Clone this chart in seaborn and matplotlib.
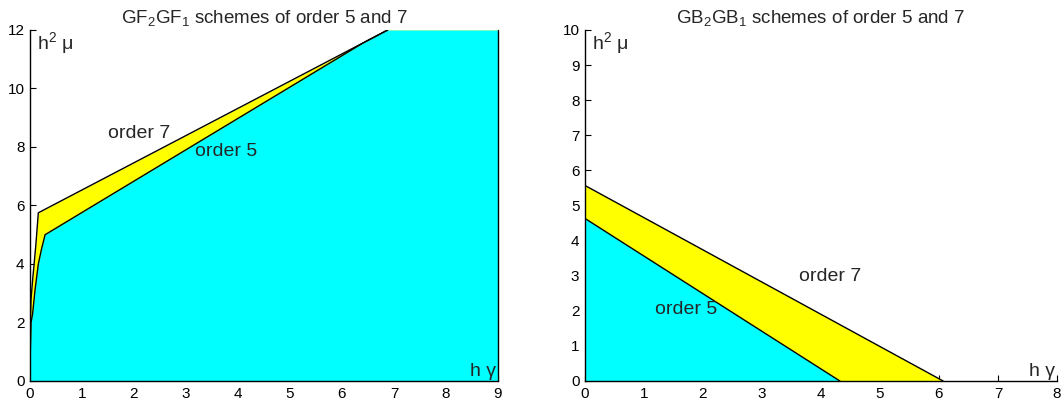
import matplotlib
matplotlib.use("Agg")
import matplotlib.pyplot as plt
import seaborn as sns
import pandas as pd

# ---- data ----
# Left panel: GF2GF1 schemes, stability boundaries
gf_o7_x = [0.0, 0.002, 0.006, 0.02, 0.05, 0.11, 0.16, 6.88, 9.0]
gf_o7_y = [0.0, 1.0, 2.0, 2.8, 3.45, 4.6, 5.75, 12.0, 12.0]
gf_o5_x = [0.0, 0.006, 0.02, 0.05, 0.096, 0.16, 0.22, 0.29, 6.4, 6.88, 9.0]
gf_o5_y = [0.0, 1.0, 2.0, 2.3, 3.1, 4.0, 4.5, 5.0, 11.55, 12.0, 12.0]
gf_edge_x = [9.0, 9.0]
gf_edge_y = [0.0, 12.0]

# Right panel: GB2GB1 schemes
gb_o7_x = [0.0, 6.07]
gb_o7_y = [5.57, 0.0]
gb_o5_x = [0.0, 4.32]
gb_o5_y = [4.63, 0.0]

left_xticks = list(range(0, 10))
left_yticks = list(range(0, 13, 2))
right_xticks = list(range(0, 9))
right_yticks = list(range(0, 11))

CYAN = "#00ffff"
YELLOW = "#ffff00"

sns.set_style("ticks")
plt.rcParams["font.family"] = ["Liberation Sans", "DejaVu Sans"]
plt.rcParams["mathtext.fontset"] = "custom"
plt.rcParams["mathtext.rm"] = "Liberation Sans"
plt.rcParams["mathtext.it"] = "Liberation Sans"

fig = plt.figure(figsize=(10.64, 4.09), dpi=100)
axL = fig.add_axes([0.0282, 0.0685, 0.4398, 0.8582])
axR = fig.add_axes([0.5498, 0.0685, 0.4436, 0.8582])

LBL = 14


def style(ax, xlim, ylim, xt, yt):
    ax.set_xlim(*xlim)
    ax.set_ylim(*ylim)
    ax.set_xticks(xt)
    ax.set_yticks(yt)
    ax.tick_params(direction="in", length=4, width=0.8, labelsize=11,
                   colors="black", pad=4)
    ax.tick_params(axis="y", pad=4)
    for s in ["top", "right"]:
        ax.spines[s].set_visible(False)
    for s in ["left", "bottom"]:
        ax.spines[s].set_linewidth(1.0)
        ax.spines[s].set_color("black")
        ax.spines[s].set_zorder(5)
    ax.set_xlabel("")
    ax.set_ylabel("")


def boundary(ax, xs, ys, clip=True):
    df = pd.DataFrame({"x": xs, "y": ys})
    sns.lineplot(data=df, x="x", y="y", ax=ax, color="black", lw=1.0,
                 sort=False, estimator=None, zorder=3, clip_on=clip)


# ---- left panel ----
axL.fill_between(gf_o7_x, 0, gf_o7_y, color=YELLOW, lw=0, zorder=1)
axL.fill_between(gf_o5_x, 0, gf_o5_y, color=CYAN, lw=0, zorder=2)
boundary(axL, gf_o7_x[:-1], gf_o7_y[:-1])
boundary(axL, gf_o5_x[:-1], gf_o5_y[:-1])
boundary(axL, gf_edge_x, gf_edge_y, clip=False)
style(axL, (0, 9), (0, 12), left_xticks, left_yticks)
axL.set_title("GF$_2$GF$_1$ schemes of order 5 and 7", fontsize=13.5, pad=5)
axL.text(0.13, 11.55, "h$^2$ μ", fontsize=LBL, va="center", ha="left")
axL.text(8.97, 0.33, "h γ", fontsize=LBL, va="center", ha="right")
axL.text(1.5, 8.45, "order 7", fontsize=LBL, va="center", ha="left")
axL.text(3.17, 7.85, "order 5", fontsize=LBL, va="center", ha="left")

# ---- right panel ----
axR.fill_between(gb_o7_x, 0, gb_o7_y, color=YELLOW, lw=0, zorder=1)
axR.fill_between(gb_o5_x, 0, gb_o5_y, color=CYAN, lw=0, zorder=2)
boundary(axR, gb_o7_x, gb_o7_y)
boundary(axR, gb_o5_x, gb_o5_y)
style(axR, (0, 8), (0, 10), right_xticks, right_yticks)
axR.set_title("GB$_2$GB$_1$ schemes of order 5 and 7", fontsize=13.5, pad=5)
axR.text(0.12, 9.62, "h$^2$ μ", fontsize=LBL, va="center", ha="left")
axR.text(7.97, 0.28, "h γ", fontsize=LBL, va="center", ha="right")
axR.text(3.62, 2.99, "order 7", fontsize=LBL, va="center", ha="left")
axR.text(1.19, 2.05, "order 5", fontsize=LBL, va="center", ha="left")

fig.savefig("out.png", dpi=100)
